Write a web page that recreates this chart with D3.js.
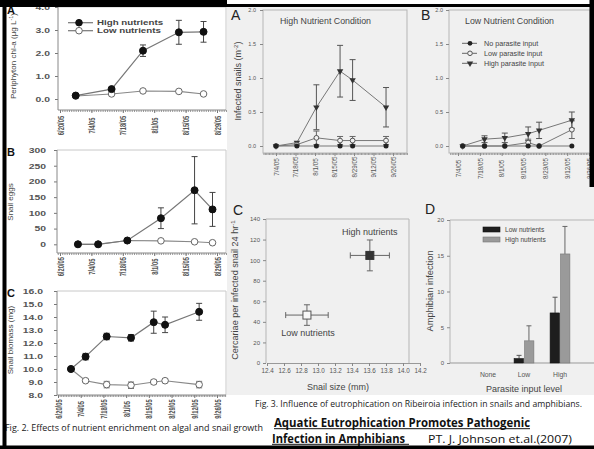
<!DOCTYPE html>
<html><head><meta charset="utf-8">
<script src="https://cdn.jsdelivr.net/npm/d3@7/dist/d3.min.js"></script>
<style>html,body{margin:0;padding:0;background:#fff}svg{display:block}</style>
</head><body>
<svg id="c" width="594" height="449"></svg>
<script>
const parse = d3.timeParse("%m/%d/%y");
const fmtDate = d3.timeFormat("%-m/%-d/%y");

// ---------- Fig. 2 data ----------
const f2Ticks = ["6/20/05","7/4/05","7/18/05","8/1/05","8/15/05","8/29/05"];
const f2CTicks = ["6/20/05","7/4/05","7/18/05","8/1/05","8/15/05","8/29/05","9/12/05","9/26/05"];
const chlYTicks = [0,1,2,3,4];
const chlDates = ["6/27/05","7/13/05","7/27/05","8/12/05","8/23/05"];
const chlHigh = [0.15,0.43,2.1,2.9,2.92];
const chlHighErr = [0,0,0.25,0.52,0.45];
const chlLow = [0.13,0.22,0.35,0.33,0.22];
const chlLowErr = [0,0,0,0,0];
const eggYTicks = [0,50,100,150,200,250,300];
const eggDates = ["6/28/05","7/7/05","7/20/05","8/4/05","8/19/05","8/27/05"];
const eggHigh = [0,0,12,83,172,111];
const eggHighErr = [0,0,0,33,107,54];
const eggLow = [0,0,12,11,8,5];
const eggLowErr = [0,0,0,0,0,0];
const massYTicks = [8,9,10,11,12,13,14,15,16];
const massDates = ["6/28/05","7/7/05","7/20/05","8/4/05","8/18/05","8/25/05","9/15/05"];
const massHigh = [10.0,10.95,12.5,12.4,13.6,13.4,14.4];
const massHighErr = [0,0.25,0.25,0.25,0.85,0.6,0.65];
const massLow = [10.0,9.1,8.8,8.75,9.0,9.1,8.8];
const massLowErr = [0,0.12,0.25,0.25,0.15,0.15,0.25];

// ---------- Fig. 3 data ----------
const f3Ticks = ["7/4/05","7/18/05","8/1/05","8/15/05","8/29/05","9/12/05","9/26/05"];
const f3YTicks = [0,0.5,1,1.5,2];
const hiNDates = ["7/4/05","7/19/05","8/2/05","8/19/05","8/28/05","9/21/05"];
const hiNNone = [0,0,0,0,0,0];
const hiNLow = [0,0.02,0.12,0.08,0.08,0.08];
const hiNLowErr = [0,0,0.1,0.06,0.06,0.06];
const hiNHigh = [0,0.05,0.57,1.1,0.97,0.57];
const hiNHighErr = [0,0,0.33,0.38,0.3,0.29];
const loNDates = ["7/7/05","7/21/05","8/3/05","8/18/05","8/25/05","9/15/05"];
const loNNone = [0,0,0,0,0,0];
const loNLow = [0,0,0,0.05,0,0.24];
const loNLowErr = [0,0,0,0.05,0,0.13];
const loNHigh = [0,0.1,0.12,0.18,0.23,0.38];
const loNHighErr = [0,0.05,0.07,0.1,0.12,0.12];
const parasiteLegend = ["No parasite input","Low parasite input","High parasite input"];

const cGroups = ["Low nutrients","High nutrients"];
const cSize = [12.87,13.61];
const cSizeErr = [0.25,0.23];
const cCerc = [46.6,104.6];
const cCercErr = [10,15];
const cXTicks = [12.4,12.6,12.8,13.0,13.2,13.4,13.6,13.8,14.0,14.2];
const cYTicks = [0,20,40,60,80,100,120,140];

const dCats = ["None","Low","High"];
const dLow = [0,0.62,7.0];
const dLowErr = [0,0.45,2.2];
const dHigh = [0,3.1,15.25];
const dHighErr = [0,2.1,3.85];
const dYTicks = [0,5,10,15,20];
const nutrientLegend = ["Low nutrients","High nutrients"];

// ---------- drawing ----------
const svg = d3.select("#c");
const FONT = "'Liberation Sans', Arial, Helvetica, sans-serif";
const CAPF = "'Open Sans', 'Noto Sans', sans-serif";

svg.append("rect").attr("width",594).attr("height",449).attr("fill","#fff");
svg.append("rect").attr("x",227).attr("y",6).attr("width",367).attr("height",389).attr("fill","#f0f0f0");

function series(dates, vals, errs){ return dates.map((d,i)=>({d:parse(d), v:vals[i], e: errs ? errs[i] : 0})); }

function errorBars(g, data, xf, yf, color, cap, upOnly){
  data.filter(p=>p.e>0).forEach(p=>{
    const x0 = xf(p), y1 = yf(p.v + p.e), y2 = upOnly ? yf(p.v) : yf(p.v - p.e);
    g.append("path")
      .attr("d", `M${x0},${y1}V${y2}M${x0-cap},${y1}H${x0+cap}` + (upOnly ? "" : `M${x0-cap},${y2}H${x0+cap}`))
      .attr("stroke",color).attr("stroke-width",1).attr("fill","none");
  });
}

// ---- Fig 2 panels ----
function fig2Panel(o){
  const g = svg.append("g");
  const tickD = o.ticks.map(parse);
  const x = d3.scaleTime().domain([tickD[0], tickD[tickD.length-1]]).range(o.xr);
  const y = d3.scaleLinear().domain(o.yd).range(o.yr);
  g.append("path").attr("d",`M${o.l},${o.t}H${o.r}V${o.b}`).attr("fill","none").attr("stroke","#c8c8c8");
  const gy = g.append("g").attr("transform",`translate(${o.l},0)`)
    .call(d3.axisLeft(y).tickValues(o.yt).tickSize(3).tickSizeOuter(0).tickFormat(d3.format(o.yf)));
  gy.select(".domain").remove();
  gy.selectAll(".tick line").attr("stroke","#777");
  gy.selectAll(".tick text").attr("x",null).attr("dy","0.35em").attr("text-anchor","end")
    .attr("transform",`translate(${o.lx - o.l},0) scale(1.6,1)`)
    .attr("font-size",6.5).attr("font-weight","bold").attr("fill","#555").attr("font-family",FONT);
  g.append("line").attr("x1",o.l).attr("x2",o.l).attr("y1",o.t).attr("y2",o.b).attr("stroke","#888");
  const gm = g.append("g").attr("transform",`translate(0,${o.b})`)
    .call(d3.axisBottom(x).tickValues(d3.timeDay.range(x.invert(o.l), x.invert(o.r))).tickSize(2).tickSizeOuter(0).tickFormat(""));
  gm.select(".domain").remove();
  gm.selectAll(".tick line").attr("stroke","#999");
  const gx = g.append("g").attr("transform",`translate(0,${o.b})`)
    .call(d3.axisBottom(x).tickValues(tickD).tickSize(3).tickSizeOuter(0).tickFormat(fmtDate));
  gx.select(".domain").remove();
  gx.selectAll(".tick line").attr("stroke","#777");
  gx.selectAll(".tick text").attr("x",0).attr("y",0).attr("dy","0.35em").attr("text-anchor","middle")
    .attr("transform",`translate(0,${o.lo}) scale(1.5,1) rotate(-90)`)
    .attr("font-size",5.8).attr("font-weight","bold").attr("fill","#555").attr("font-family",FONT);
  g.append("line").attr("x1",o.l).attr("x2",o.r).attr("y1",o.b).attr("y2",o.b).attr("stroke","#888");
  const yl = g.append("text").attr("transform",`translate(${o.ylx},${o.yly}) rotate(-90)`)
    .attr("text-anchor","middle").attr("font-family",FONT).attr("font-size",8).attr("fill","#444");
  o.ylabel(yl);
  g.append("text").attr("x",o.letterX).attr("y",o.letterY).text(o.letter)
    .attr("font-family",FONT).attr("font-size",11).attr("font-weight","bold").attr("fill","#111");
  const hi = series(o.dates, o.high, o.highErr), lo = series(o.dates, o.low, o.lowErr);
  const line = d3.line().x(p=>x(p.d)).y(p=>y(p.v));
  g.append("path").attr("d",line(lo)).attr("fill","none").attr("stroke","#888").attr("stroke-width",1.1);
  g.append("path").attr("d",line(hi)).attr("fill","none").attr("stroke","#777").attr("stroke-width",1.2);
  errorBars(g, lo, p=>x(p.d), y, "#777", 3, false);
  errorBars(g, hi, p=>x(p.d), y, "#444", 3, false);
  g.selectAll(".lo").data(lo).join("circle").attr("cx",p=>x(p.d)).attr("cy",p=>y(p.v)).attr("r",3.3)
    .attr("fill","#fff").attr("stroke","#666").attr("stroke-width",1);
  g.selectAll(".hi").data(hi).join("circle").attr("cx",p=>x(p.d)).attr("cy",p=>y(p.v)).attr("r",3.5)
    .attr("fill","#111").attr("stroke","#111");
  return g;
}

const gA2 = fig2Panel({l:58, r:226, t:7, b:110, xr:[60,217], ticks:f2Ticks, yd:[0,4], yr:[99,7], yt:chlYTicks, yf:".1f",
  lx:50, lo:15.5, ylx:16, yly:56, letter:"A", letterX:7, letterY:14,
  ylabel: t=>{ t.append("tspan").text("Periphyton chl-a (μg L"); t.append("tspan").text("-1").attr("font-size",5.5).attr("dy",-3); t.append("tspan").text(")").attr("dy",3); },
  dates:chlDates, high:chlHigh, highErr:chlHighErr, low:chlLow, lowErr:chlLowErr});
[["High nutrients",true],["Low nutrients",false]].forEach((it,i)=>{
  const yy = 22.7 + i*8;
  gA2.append("line").attr("x1",68).attr("x2",93).attr("y1",yy).attr("y2",yy).attr("stroke","#777").attr("stroke-width",1.2);
  gA2.append("circle").attr("cx",79).attr("cy",yy).attr("r",3.3).attr("fill",it[1]?"#111":"#fff").attr("stroke",it[1]?"#111":"#666");
  gA2.append("text").attr("transform",`translate(97,${yy}) scale(1.55,1)`).attr("dy","0.35em").text(it[0])
    .attr("font-family",FONT).attr("font-size",6.3).attr("font-weight","bold").attr("fill","#444");
});

fig2Panel({l:57, r:226, t:150, b:253, xr:[60,217], ticks:f2Ticks, yd:[0,300], yr:[244.3,150], yt:eggYTicks, yf:"d",
  lx:46, lo:13.7, ylx:13, yly:202, letter:"B", letterX:7, letterY:156,
  ylabel: t=>t.text("Snail eggs"),
  dates:eggDates, high:eggHigh, highErr:eggHighErr, low:eggLow, lowErr:eggLowErr});

fig2Panel({l:57, r:226, t:291, b:395, xr:[58,217], ticks:f2CTicks, yd:[8,16], yr:[395,291], yt:massYTicks, yf:".1f",
  lx:43, lo:14, ylx:13, yly:340, letter:"C", letterX:7, letterY:297,
  ylabel: t=>t.text("Snail biomass (mg)"),
  dates:massDates, high:massHigh, highErr:massHighErr, low:massLow, lowErr:massLowErr});

// ---- Fig 3 A/B time panels ----
function fig3Time(o){
  const g = svg.append("g");
  const tickD = f3Ticks.map(parse);
  const x = d3.scaleTime().domain([tickD[0], tickD[tickD.length-1]]).range(o.xr);
  const y = d3.scaleLinear().domain([0,2]).range([146,10]);
  g.append("rect").attr("x",o.l).attr("y",10).attr("width",o.r-o.l).attr("height",143).attr("fill","none").attr("stroke","#b5b5b5");
  const gy = g.append("g").attr("transform",`translate(${o.l},0)`)
    .call(d3.axisLeft(y).tickValues(f3YTicks).tickSize(3).tickSizeOuter(0).tickFormat(d3.format(".1f")));
  gy.select(".domain").remove();
  gy.selectAll(".tick line").attr("stroke","#888");
  gy.selectAll(".tick text").attr("x",o.lx - o.l).attr("dy","0.35em").attr("text-anchor","end")
    .attr("font-size",5.5).attr("fill","#555").attr("font-family",FONT);
  const gm = g.append("g").attr("transform","translate(0,153)")
    .call(d3.axisBottom(x).tickValues(d3.timeDay.range(x.invert(o.l), x.invert(o.r))).tickSize(2).tickSizeOuter(0).tickFormat(""));
  gm.select(".domain").remove();
  gm.selectAll(".tick line").attr("stroke","#999");
  const gx = g.append("g").attr("transform","translate(0,153)")
    .call(d3.axisBottom(x).tickValues(tickD).tickSize(3).tickSizeOuter(0).tickFormat(fmtDate));
  gx.select(".domain").remove();
  gx.selectAll(".tick line").attr("stroke","#888");
  gx.selectAll(".tick text").attr("x",0).attr("y",0).attr("dy","0.35em").attr("text-anchor","middle")
    .attr("transform",`translate(0,${o.lo}) rotate(-90)`)
    .attr("font-size",6.3).attr("fill","#555").attr("font-family",FONT);
  g.append("text").attr("x",o.titleX).attr("y",23.5).text(o.title).attr("font-family",FONT).attr("font-size",8.8).attr("fill","#444");
  g.append("text").attr("x",o.letterX).attr("y",20).text(o.letter).attr("font-family",FONT).attr("font-size",14).attr("fill","#222");
  const sHigh = series(o.dates,o.high,o.highErr), sLow = series(o.dates,o.low,o.lowErr), sNone = series(o.dates,o.none,null);
  const line = d3.line().x(p=>x(p.d)).y(p=>y(p.v));
  [sHigh,sLow,sNone].forEach(s=>g.append("path").attr("d",line(s)).attr("fill","none").attr("stroke","#777").attr("stroke-width",1));
  errorBars(g, sHigh, p=>x(p.d), y, "#555", 3, false);
  errorBars(g, sLow, p=>x(p.d), y, "#666", 3, false);
  const tri = d3.symbol().type(d3.symbolTriangle).size(18);
  g.selectAll(".th").data(sHigh).join("path").attr("d",tri)
    .attr("transform",p=>`translate(${x(p.d)},${y(p.v)}) rotate(180)`).attr("fill","#333");
  g.selectAll(".cl").data(sLow).join("circle").attr("cx",p=>x(p.d)).attr("cy",p=>y(p.v)).attr("r",2.4)
    .attr("fill","#f0f0f0").attr("stroke","#555");
  g.selectAll(".cn").data(sNone).join("circle").attr("cx",p=>x(p.d)).attr("cy",p=>y(p.v)).attr("r",2.5).attr("fill","#222");
  if (o.ylabel){
    const t = g.append("text").attr("transform","translate(241,81) rotate(-90)").attr("text-anchor","middle")
      .attr("font-family",FONT).attr("font-size",9).attr("fill","#444");
    t.append("tspan").text("Infected snails (m");
    t.append("tspan").text("-2").attr("font-size",6).attr("dy",-3);
    t.append("tspan").text(")").attr("dy",3);
  }
  if (o.legend){
    parasiteLegend.forEach((lab,i)=>{
      const yy = 43.3 + i*10;
      g.append("line").attr("x1",462).attr("x2",477).attr("y1",yy).attr("y2",yy).attr("stroke","#666");
      if (i===0) g.append("circle").attr("cx",470).attr("cy",yy).attr("r",2.4).attr("fill","#222");
      if (i===1) g.append("circle").attr("cx",470).attr("cy",yy).attr("r",2.3).attr("fill","#f0f0f0").attr("stroke","#555");
      if (i===2) g.append("path").attr("d",tri).attr("transform",`translate(470,${yy}) rotate(180)`).attr("fill","#333");
      g.append("text").attr("x",484).attr("y",yy).attr("dy","0.35em").text(lab)
        .attr("font-family",FONT).attr("font-size",7.2).attr("fill","#444");
    });
  }
}

fig3Time({l:263, r:407, xr:[276,393], lx:256, lo:14, title:"High Nutrient Condition", titleX:280, letter:"A", letterX:231,
  dates:hiNDates, none:hiNNone, low:hiNLow, lowErr:hiNLowErr, high:hiNHigh, highErr:hiNHighErr, ylabel:true});
fig3Time({l:449, r:590, xr:[458,589], lx:443, lo:15.5, title:"Low Nutrient Condition", titleX:465, letter:"B", letterX:421,
  dates:loNDates, none:loNNone, low:loNLow, lowErr:loNLowErr, high:loNHigh, highErr:loNHighErr, legend:true});

// ---- Fig 3 C ----
(function(){
  const g = svg.append("g");
  const x = d3.scaleLinear().domain([12.4,14.2]).range([267,420]);
  const y = d3.scaleLinear().domain([0,140]).range([363,219]);
  g.append("path").attr("d","M266,363V219H409V363").attr("fill","none").attr("stroke","#b5b5b5");
  const gy = g.append("g").attr("transform","translate(266,0)")
    .call(d3.axisLeft(y).tickValues(cYTicks).tickSize(3).tickSizeOuter(0));
  gy.select(".domain").remove();
  gy.selectAll(".tick line").attr("stroke","#888");
  gy.selectAll(".tick text").attr("x",-6).attr("font-size",6).attr("fill","#555").attr("font-family",FONT);
  const gx = g.append("g").attr("transform","translate(0,363)")
    .call(d3.axisBottom(x).tickValues(cXTicks).tickSize(3).tickSizeOuter(0).tickFormat(d3.format(".1f")));
  gx.select(".domain").attr("stroke","#999");
  gx.selectAll(".tick line").attr("stroke","#888");
  gx.selectAll(".tick text").attr("y",6).attr("font-size",6.3).attr("fill","#555").attr("font-family",FONT);
  g.append("text").attr("x",233).attr("y",215).text("C").attr("font-family",FONT).attr("font-size",14).attr("fill","#222");
  const pts = cGroups.map((k,i)=>({k, sx:cSize[i], sxe:cSizeErr[i], v:cCerc[i], e:cCercErr[i]}));
  pts.forEach(p=>{
    const cy = y(p.v);
    g.append("path").attr("d",`M${x(p.sx-p.sxe)},${cy}H${x(p.sx+p.sxe)}M${x(p.sx-p.sxe)},${cy-3}V${cy+3}M${x(p.sx+p.sxe)},${cy-3}V${cy+3}`)
      .attr("stroke","#666").attr("fill","none");
  });
  errorBars(g, pts, p=>x(p.sx), y, "#666", 3, false);
  pts.forEach((p,i)=>{
    g.append("rect").attr("x",x(p.sx)-4).attr("y",y(p.v)-4).attr("width",8).attr("height",8)
      .attr("fill", i===1 ? "#333" : "#f8f8f8").attr("stroke", i===1 ? "#333" : "#555");
  });
  g.append("text").attr("x",x(cSize[1])).attr("y",235).attr("text-anchor","middle").text(cGroups[1])
    .attr("font-family",FONT).attr("font-size",9).attr("fill","#444");
  g.append("text").attr("x",x(cSize[0])+1).attr("y",336).attr("text-anchor","middle").text(cGroups[0])
    .attr("font-family",FONT).attr("font-size",9).attr("fill","#444");
  const t = g.append("text").attr("transform","translate(238,290) rotate(-90)").attr("text-anchor","middle")
    .attr("font-family",FONT).attr("font-size",9.1).attr("fill","#444");
  t.append("tspan").text("Cercariae per infected snail 24 hr");
  t.append("tspan").text("-1").attr("font-size",6.2).attr("dy",-3.5);
  g.append("text").attr("x",338).attr("y",390).attr("text-anchor","middle").text("Snail size (mm)")
    .attr("font-family",FONT).attr("font-size",9).attr("fill","#444");
})();

// ---- Fig 3 D ----
(function(){
  const g = svg.append("g");
  const x = d3.scaleBand().domain(dCats).range([470,578]).paddingInner(0.45).paddingOuter(0.225);
  const y = d3.scaleLinear().domain([0,20]).range([363,220]);
  g.append("path").attr("d","M450,363V220H600").attr("fill","none").attr("stroke","#b5b5b5");
  const gy = g.append("g").attr("transform","translate(450,0)")
    .call(d3.axisLeft(y).tickValues(dYTicks).tickSize(3).tickSizeOuter(0));
  gy.select(".domain").remove();
  gy.selectAll(".tick line").attr("stroke","#888");
  gy.selectAll(".tick text").attr("x",-6).attr("font-size",6).attr("fill","#555").attr("font-family",FONT);
  const gx = g.append("g").attr("transform","translate(0,363)")
    .call(d3.axisBottom(x).tickSize(0).tickSizeOuter(0));
  gx.select(".domain").attr("d","M450,0H600").attr("stroke","#999");
  gx.selectAll(".tick text").attr("y",9).attr("font-size",6.8).attr("fill","#555").attr("font-family",FONT);
  g.append("text").attr("x",425).attr("y",213.5).text("D").attr("font-family",FONT).attr("font-size",14).attr("fill","#222");
  const bw = x.bandwidth()/2;
  const lowB = dCats.map((c,i)=>({c, v:dLow[i], e:dLowErr[i]}));
  const highB = dCats.map((c,i)=>({c, v:dHigh[i], e:dHighErr[i]}));
  errorBars(g, lowB, p=>x(p.c)+bw/2, y, "#555", 2.5, true);
  errorBars(g, highB, p=>x(p.c)+bw*1.5, y, "#666", 2.5, true);
  g.selectAll(".bl").data(lowB.filter(p=>p.v>0)).join("rect").attr("x",p=>x(p.c)).attr("width",bw-0.5)
    .attr("y",p=>y(p.v)).attr("height",p=>363-y(p.v)).attr("fill","#1e1e1e").attr("stroke","#111").attr("stroke-width",0.6);
  g.selectAll(".bh").data(highB.filter(p=>p.v>0)).join("rect").attr("x",p=>x(p.c)+bw+0.5).attr("width",bw-0.5)
    .attr("y",p=>y(p.v)).attr("height",p=>363-y(p.v)).attr("fill","#9a9a9a").attr("stroke","#777").attr("stroke-width",0.6);
  nutrientLegend.forEach((lab,i)=>{
    const yy = 229.5 + i*10;
    g.append("rect").attr("x",483).attr("y",yy-2.5).attr("width",17).attr("height",5)
      .attr("fill", i===0 ? "#1e1e1e" : "#9a9a9a").attr("stroke", i===0 ? "#111" : "#777").attr("stroke-width",0.6);
    g.append("text").attr("x",505).attr("y",yy).attr("dy","0.35em").text(lab)
      .attr("font-family",FONT).attr("font-size",6.6).attr("fill","#444");
  });
  g.append("text").attr("transform","translate(433,291) rotate(-90)").attr("text-anchor","middle").text("Amphibian infection")
    .attr("font-family",FONT).attr("font-size",9.3).attr("fill","#444");
  g.append("text").attr("x",524).attr("y",392).attr("text-anchor","middle").text("Parasite input level")
    .attr("font-family",FONT).attr("font-size",9).attr("fill","#444");
})();

// ---- captions ----
svg.append("text").attr("x",5).attr("y",431).text("Fig. 2. Effects of nutrient enrichment on algal and snail growth")
  .attr("font-family",CAPF).attr("font-size",8.5).attr("fill","#222").attr("textLength",258).attr("lengthAdjust","spacingAndGlyphs");
svg.append("text").attr("x",255).attr("y",407).text("Fig. 3. Influence of eutrophication on Ribeiroia infection in snails and amphibians.")
  .attr("font-family",CAPF).attr("font-size",8.8).attr("fill","#222").attr("textLength",327).attr("lengthAdjust","spacingAndGlyphs");
svg.append("text").attr("x",274).attr("y",426.5).text("Aquatic Eutrophication Promotes Pathogenic")
  .attr("font-family",CAPF).attr("font-size",12).attr("font-weight","bold").attr("fill","#111").attr("textLength",256).attr("lengthAdjust","spacingAndGlyphs");
svg.append("line").attr("x1",274).attr("x2",530).attr("y1",428.7).attr("y2",428.7).attr("stroke","#111").attr("stroke-width",1);
svg.append("text").attr("x",272).attr("y",442.5).text("Infection in Amphibians")
  .attr("font-family",CAPF).attr("font-size",12).attr("font-weight","bold").attr("fill","#111").attr("textLength",133).attr("lengthAdjust","spacingAndGlyphs");
svg.append("line").attr("x1",272).attr("x2",409).attr("y1",444.3).attr("y2",444.3).attr("stroke","#111").attr("stroke-width",1);
svg.append("text").attr("x",428).attr("y",442.5).text("PT. J. Johnson et.al.(2007)")
  .attr("font-family",CAPF).attr("font-size",11).attr("fill","#111").attr("textLength",144).attr("lengthAdjust","spacingAndGlyphs");

// ---- black borders ----
svg.append("rect").attr("x",0).attr("y",0).attr("width",227).attr("height",5).attr("fill","#000");
svg.append("rect").attr("x",0).attr("y",4).attr("width",594).attr("height",3).attr("fill","#000");
svg.append("rect").attr("x",2.5).attr("y",0).attr("width",4).attr("height",449).attr("fill","#000");
svg.append("rect").attr("x",0).attr("y",445.5).attr("width",594).attr("height",3.5).attr("fill","#000");
svg.append("rect").attr("x",589.5).attr("y",0).attr("width",4.5).attr("height",187).attr("fill","#000");
</script>
</body></html>
